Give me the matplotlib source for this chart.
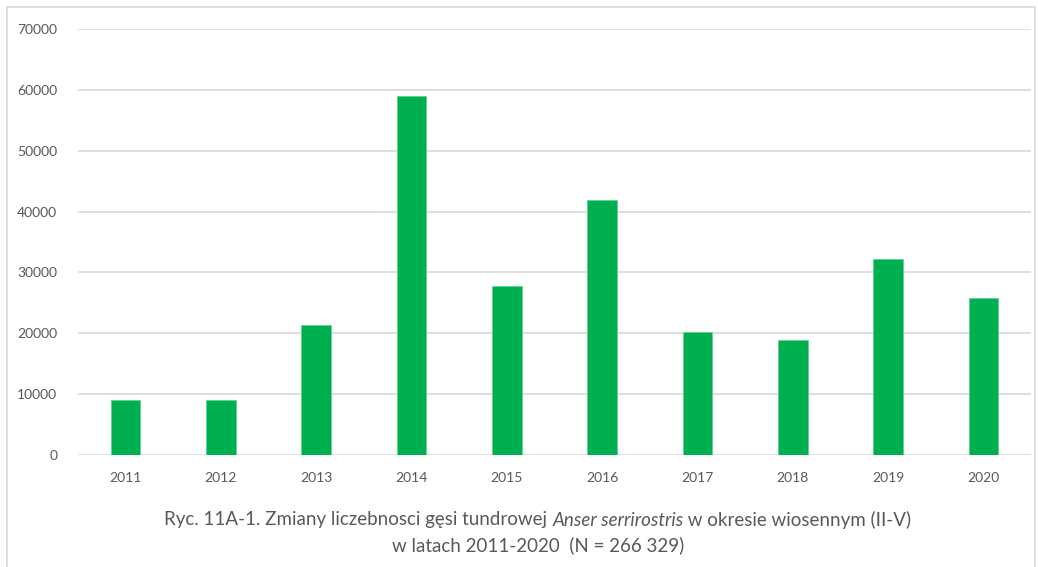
import matplotlib
matplotlib.use("Agg")
import matplotlib.pyplot as plt
from matplotlib.patches import Rectangle

# --- data ---
years = ["2011", "2012", "2013", "2014", "2015", "2016", "2017", "2018", "2019", "2020"]
counts = [8980, 8980, 21410, 59010, 27810, 41900, 20260, 18830, 32250, 25850]
y_ticks = [0, 10000, 20000, 30000, 40000, 50000, 60000, 70000]

caption_1 = ["Ryc. 11A-1. Zmiany liczebnosci gęsi tundrowej ", "Anser serrirostris", " w okresie wiosennym (II-V)"]
caption_2 = "w latach 2011-2020  (N = 266 329)"

W, H = 1038, 567
FONT = "Lato"
GRAY = "#595959"

fig = plt.figure(figsize=(W / 100, H / 100), dpi=100, facecolor="white")

# light frame round the chart area
fig.patches.append(Rectangle((7 / W, -0.05), (1035 - 7) / W, 1 - 7 / H + 0.05,
                             transform=fig.transFigure, fill=False,
                             edgecolor="#d9d9d9", linewidth=1.2))

ax = fig.add_axes([78 / W, 1 - 455 / H, (1031 - 78) / W, (455 - 29) / H])
x = range(len(years))
ax.bar(x, counts, width=0.31, color="#00b050", edgecolor="#5fd38d", linewidth=0.6, zorder=3)

ax.set_xlim(-0.5, len(years) - 0.5)
ax.set_ylim(0, 70000)
ax.set_yticks(y_ticks)
ax.set_yticklabels([str(v) for v in y_ticks])
ax.set_xticks(list(x))
ax.set_xticklabels(years)
ax.grid(axis="y", color="#d9d9d9", linewidth=1.2, zorder=0)
for s in ax.spines.values():
    s.set_visible(False)
ax.tick_params(length=0, labelsize=10, labelcolor=GRAY, pad=15)
ax.tick_params(axis="x", pad=12)
for lab in ax.get_xticklabels() + ax.get_yticklabels():
    lab.set_fontfamily(FONT)

# caption, line 1 with italic species name, centred as a whole
fig.canvas.draw()
r = fig.canvas.get_renderer()
parts = []
for i, t in enumerate(caption_1):
    parts.append(fig.text(0, 0, t, fontsize=13.5, family=FONT, color=GRAY,
                          style="italic" if i == 1 else "normal", va="center"))
widths = [p.get_window_extent(r).width for p in parts]
xpos = 538 - sum(widths) / 2
for p, w in zip(parts, widths):
    p.set_position((xpos / W, 1 - 520 / H))
    xpos += w

fig.text(538 / W, 1 - 545 / H, caption_2, fontsize=13.5, family=FONT, color=GRAY,
         ha="center", va="center")

fig.savefig("out.png", dpi=100, facecolor="white")
